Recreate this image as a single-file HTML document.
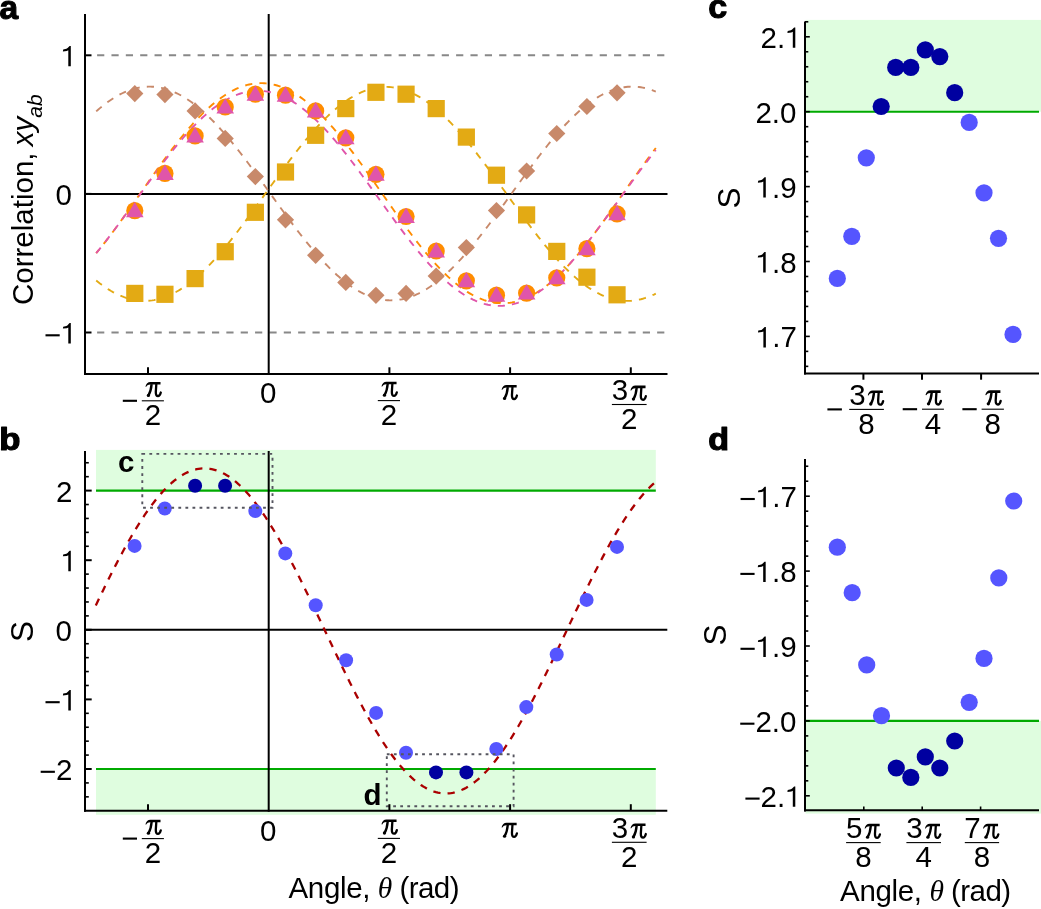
<!DOCTYPE html>
<html><head><meta charset="utf-8"><style>
html,body{margin:0;padding:0;background:#fff;overflow:hidden;}
svg{display:block;will-change:transform;}
</style></head><body>
<svg width="1041" height="909" viewBox="0 0 1041 909">
<rect width="1041" height="909" fill="#fff"/>
<line x1="97.10" y1="55.30" x2="664.50" y2="55.30" stroke="#888888" stroke-width="2.00" stroke-dasharray="7.2,7.16"/>
<line x1="97.10" y1="332.50" x2="664.50" y2="332.50" stroke="#888888" stroke-width="2.00" stroke-dasharray="7.2,7.16"/>
<line x1="85.00" y1="193.90" x2="667.50" y2="193.90" stroke="#000" stroke-width="2.00" />
<line x1="268.70" y1="14.00" x2="268.70" y2="374.80" stroke="#000" stroke-width="2.00" />
<path d="M96.20,111.35 L98.07,109.71 L99.93,108.13 L101.80,106.59 L103.66,105.11 L105.53,103.68 L107.39,102.30 L109.26,100.97 L111.12,99.70 L112.99,98.49 L114.85,97.33 L116.72,96.22 L118.58,95.18 L120.45,94.19 L122.31,93.26 L124.18,92.39 L126.05,91.58 L127.91,90.83 L129.78,90.14 L131.64,89.51 L133.51,88.94 L135.37,88.43 L137.24,87.99 L139.10,87.61 L140.97,87.29 L142.83,87.03 L144.70,86.84 L146.56,86.70 L148.43,86.63 L150.29,86.63 L152.16,86.69 L154.03,86.81 L155.89,86.99 L157.76,87.23 L159.62,87.54 L161.49,87.91 L163.35,88.35 L165.22,88.84 L167.08,89.40 L168.95,90.02 L170.81,90.69 L172.68,91.43 L174.54,92.23 L176.41,93.09 L178.27,94.01 L180.14,94.99 L182.01,96.02 L183.87,97.11 L185.74,98.26 L187.60,99.47 L189.47,100.73 L191.33,102.05 L193.20,103.41 L195.06,104.84 L196.93,106.31 L198.79,107.84 L200.66,109.41 L202.52,111.04 L204.39,112.71 L206.25,114.44 L208.12,116.21 L209.99,118.02 L211.85,119.88 L213.72,121.78 L215.58,123.72 L217.45,125.71 L219.31,127.74 L221.18,129.80 L223.04,131.90 L224.91,134.04 L226.77,136.21 L228.64,138.42 L230.50,140.66 L232.37,142.93 L234.23,145.23 L236.10,147.56 L237.97,149.91 L239.83,152.29 L241.70,154.70 L243.56,157.13 L245.43,159.58 L247.29,162.05 L249.16,164.54 L251.02,167.04 L252.89,169.56 L254.75,172.10 L256.62,174.64 L258.48,177.20 L260.35,179.77 L262.21,182.35 L264.08,184.93 L265.95,187.52 L267.81,190.11 L269.68,192.70 L271.54,195.30 L273.41,197.89 L275.27,200.48 L277.14,203.07 L279.00,205.65 L280.87,208.22 L282.73,210.79 L284.60,213.34 L286.46,215.88 L288.33,218.41 L290.19,220.93 L292.06,223.43 L293.93,225.91 L295.79,228.37 L297.66,230.81 L299.52,233.23 L301.39,235.63 L303.25,238.00 L305.12,240.34 L306.98,242.66 L308.85,244.95 L310.71,247.21 L312.58,249.43 L314.44,251.63 L316.31,253.79 L318.17,255.91 L320.04,258.00 L321.91,260.05 L323.77,262.05 L325.64,264.02 L327.50,265.95 L329.37,267.84 L331.23,269.68 L333.10,271.47 L334.96,273.22 L336.83,274.93 L338.69,276.58 L340.56,278.19 L342.42,279.75 L344.29,281.25 L346.15,282.70 L348.02,284.11 L349.89,285.45 L351.75,286.75 L353.62,287.99 L355.48,289.17 L357.35,290.30 L359.21,291.37 L361.08,292.38 L362.94,293.33 L364.81,294.23 L366.67,295.06 L368.54,295.84 L370.40,296.55 L372.27,297.21 L374.13,297.80 L376.00,298.33 L377.87,298.80 L379.73,299.21 L381.60,299.56 L383.46,299.84 L385.33,300.06 L387.19,300.22 L389.06,300.31 L390.92,300.34 L392.79,300.31 L394.65,300.22 L396.52,300.06 L398.38,299.84 L400.25,299.56 L402.11,299.22 L403.98,298.81 L405.85,298.34 L407.71,297.81 L409.58,297.22 L411.44,296.56 L413.31,295.85 L415.17,295.07 L417.04,294.24 L418.90,293.35 L420.77,292.39 L422.63,291.38 L424.50,290.31 L426.36,289.19 L428.23,288.00 L430.09,286.77 L431.96,285.47 L433.83,284.13 L435.69,282.73 L437.56,281.27 L439.42,279.77 L441.29,278.21 L443.15,276.61 L445.02,274.95 L446.88,273.25 L448.75,271.50 L450.61,269.71 L452.48,267.86 L454.34,265.98 L456.21,264.05 L458.07,262.09 L459.94,260.08 L461.81,258.03 L463.67,255.94 L465.54,253.82 L467.40,251.66 L469.27,249.47 L471.13,247.24 L473.00,244.98 L474.86,242.70 L476.73,240.38 L478.59,238.03 L480.46,235.66 L482.32,233.27 L484.19,230.85 L486.05,228.41 L487.92,225.95 L489.79,223.46 L491.65,220.97 L493.52,218.45 L495.38,215.92 L497.25,213.38 L499.11,210.83 L500.98,208.26 L502.84,205.69 L504.71,203.11 L506.57,200.52 L508.44,197.93 L510.30,195.34 L512.17,192.74 L514.03,190.15 L515.90,187.56 L517.77,184.97 L519.63,182.39 L521.50,179.81 L523.36,177.24 L525.23,174.68 L527.09,172.14 L528.96,169.60 L530.82,167.08 L532.69,164.57 L534.55,162.08 L536.42,159.61 L538.28,157.16 L540.15,154.74 L542.01,152.33 L543.88,149.95 L545.75,147.59 L547.61,145.26 L549.48,142.96 L551.34,140.69 L553.21,138.45 L555.07,136.25 L556.94,134.07 L558.80,131.93 L560.67,129.83 L562.53,127.77 L564.40,125.74 L566.26,123.75 L568.13,121.81 L569.99,119.91 L571.86,118.05 L573.73,116.23 L575.59,114.46 L577.46,112.74 L579.32,111.06 L581.19,109.44 L583.05,107.86 L584.92,106.33 L586.78,104.86 L588.65,103.44 L590.51,102.07 L592.38,100.75 L594.24,99.49 L596.11,98.28 L597.97,97.13 L599.84,96.04 L601.71,95.00 L603.57,94.02 L605.44,93.11 L607.30,92.25 L609.17,91.45 L611.03,90.70 L612.90,90.03 L614.76,89.41 L616.63,88.85 L618.49,88.35 L620.36,87.92 L622.22,87.55 L624.09,87.24 L625.95,86.99 L627.82,86.81 L629.69,86.69 L631.55,86.63 L633.42,86.63 L635.28,86.70 L637.15,86.83 L639.01,87.03 L640.88,87.28 L642.74,87.60 L644.61,87.98 L646.47,88.43 L648.34,88.93 L650.20,89.50 L652.07,90.13 L653.93,90.82 L655.80,91.57" stroke="#C8896A" stroke-dasharray="7.2,7.15" fill="none" stroke-width="1.9"/>
<path d="M96.20,280.48 L98.07,281.98 L99.93,283.43 L101.80,284.82 L103.66,286.16 L105.53,287.45 L107.39,288.69 L109.26,289.86 L111.12,290.98 L112.99,292.05 L114.85,293.05 L116.72,294.00 L118.58,294.89 L120.45,295.72 L122.31,296.48 L124.18,297.19 L126.05,297.84 L127.91,298.43 L129.78,298.95 L131.64,299.41 L133.51,299.81 L135.37,300.15 L137.24,300.43 L139.10,300.64 L140.97,300.79 L142.83,300.88 L144.70,300.90 L146.56,300.86 L148.43,300.76 L150.29,300.59 L152.16,300.36 L154.03,300.07 L155.89,299.72 L157.76,299.30 L159.62,298.82 L161.49,298.28 L163.35,297.68 L165.22,297.02 L167.08,296.30 L168.95,295.51 L170.81,294.67 L172.68,293.77 L174.54,292.81 L176.41,291.79 L178.27,290.71 L180.14,289.57 L182.01,288.38 L183.87,287.14 L185.74,285.83 L187.60,284.48 L189.47,283.07 L191.33,281.61 L193.20,280.09 L195.06,278.53 L196.93,276.91 L198.79,275.25 L200.66,273.54 L202.52,271.78 L204.39,269.98 L206.25,268.13 L208.12,266.24 L209.99,264.30 L211.85,262.33 L213.72,260.31 L215.58,258.25 L217.45,256.16 L219.31,254.03 L221.18,251.86 L223.04,249.66 L224.91,247.43 L226.77,245.16 L228.64,242.87 L230.50,240.55 L232.37,238.19 L234.23,235.82 L236.10,233.42 L237.97,230.99 L239.83,228.54 L241.70,226.08 L243.56,223.59 L245.43,221.08 L247.29,218.56 L249.16,216.03 L251.02,213.48 L252.89,210.92 L254.75,208.35 L256.62,205.78 L258.48,203.19 L260.35,200.60 L262.21,198.01 L264.08,195.41 L265.95,192.81 L267.81,190.22 L269.68,187.62 L271.54,185.03 L273.41,182.45 L275.27,179.87 L277.14,177.30 L279.00,174.74 L280.87,172.19 L282.73,169.65 L284.60,167.13 L286.46,164.62 L288.33,162.13 L290.19,159.66 L292.06,157.21 L293.93,154.78 L295.79,152.37 L297.66,149.99 L299.52,147.64 L301.39,145.31 L303.25,143.01 L305.12,140.74 L306.98,138.50 L308.85,136.30 L310.71,134.12 L312.58,131.99 L314.44,129.89 L316.31,127.83 L318.17,125.80 L320.04,123.82 L321.91,121.88 L323.77,119.98 L325.64,118.12 L327.50,116.31 L329.37,114.54 L331.23,112.83 L333.10,111.15 L334.96,109.53 L336.83,107.96 L338.69,106.44 L340.56,104.97 L342.42,103.55 L344.29,102.18 L346.15,100.87 L348.02,99.62 L349.89,98.42 L351.75,97.27 L353.62,96.19 L355.48,95.16 L357.35,94.19 L359.21,93.27 L361.08,92.42 L362.94,91.63 L364.81,90.89 L366.67,90.22 L368.54,89.61 L370.40,89.06 L372.27,88.57 L374.13,88.15 L376.00,87.78 L377.87,87.48 L379.73,87.24 L381.60,87.07 L383.46,86.95 L385.33,86.90 L387.19,86.92 L389.06,86.99 L390.92,87.13 L392.79,87.33 L394.65,87.60 L396.52,87.93 L398.38,88.32 L400.25,88.77 L402.11,89.28 L403.98,89.86 L405.85,90.50 L407.71,91.20 L409.58,91.95 L411.44,92.77 L413.31,93.65 L415.17,94.59 L417.04,95.59 L418.90,96.64 L420.77,97.75 L422.63,98.92 L424.50,100.14 L426.36,101.42 L428.23,102.75 L430.09,104.14 L431.96,105.58 L433.83,107.07 L435.69,108.62 L437.56,110.21 L439.42,111.85 L441.29,113.55 L443.15,115.28 L445.02,117.07 L446.88,118.90 L448.75,120.77 L450.61,122.69 L452.48,124.65 L454.34,126.65 L456.21,128.69 L458.07,130.77 L459.94,132.89 L461.81,135.04 L463.67,137.22 L465.54,139.44 L467.40,141.70 L469.27,143.98 L471.13,146.29 L473.00,148.63 L474.86,151.00 L476.73,153.39 L478.59,155.80 L480.46,158.24 L482.32,160.70 L484.19,163.18 L486.05,165.68 L487.92,168.19 L489.79,170.72 L491.65,173.26 L493.52,175.82 L495.38,178.38 L497.25,180.96 L499.11,183.54 L500.98,186.13 L502.84,188.72 L504.71,191.31 L506.57,193.91 L508.44,196.51 L510.30,199.10 L512.17,201.70 L514.03,204.28 L515.90,206.87 L517.77,209.44 L519.63,212.01 L521.50,214.56 L523.36,217.10 L525.23,219.63 L527.09,222.14 L528.96,224.64 L530.82,227.12 L532.69,229.58 L534.55,232.02 L536.42,234.43 L538.28,236.82 L540.15,239.19 L542.01,241.53 L543.88,243.84 L545.75,246.12 L547.61,248.38 L549.48,250.60 L551.34,252.78 L553.21,254.93 L555.07,257.05 L556.94,259.13 L558.80,261.17 L560.67,263.17 L562.53,265.12 L564.40,267.04 L566.26,268.92 L568.13,270.75 L569.99,272.53 L571.86,274.27 L573.73,275.96 L575.59,277.60 L577.46,279.20 L579.32,280.74 L581.19,282.23 L583.05,283.67 L584.92,285.06 L586.78,286.39 L588.65,287.67 L590.51,288.89 L592.38,290.06 L594.24,291.17 L596.11,292.22 L597.97,293.22 L599.84,294.16 L601.71,295.03 L603.57,295.85 L605.44,296.61 L607.30,297.31 L609.17,297.94 L611.03,298.52 L612.90,299.03 L614.76,299.49 L616.63,299.88 L618.49,300.20 L620.36,300.47 L622.22,300.67 L624.09,300.81 L625.95,300.88 L627.82,300.90 L629.69,300.85 L631.55,300.73 L633.42,300.56 L635.28,300.32 L637.15,300.02 L639.01,299.65 L640.88,299.22 L642.74,298.74 L644.61,298.19 L646.47,297.57 L648.34,296.90 L650.20,296.17 L652.07,295.37 L653.93,294.52 L655.80,293.61" stroke="#E3AA14" stroke-dasharray="7.2,7.15" fill="none" stroke-width="1.9"/>
<path d="M96.20,253.16 L98.07,250.90 L99.93,248.61 L101.80,246.29 L103.66,243.93 L105.53,241.54 L107.39,239.13 L109.26,236.69 L111.12,234.22 L112.99,231.73 L114.85,229.22 L116.72,226.68 L118.58,224.13 L120.45,221.56 L122.31,218.97 L124.18,216.36 L126.05,213.74 L127.91,211.11 L129.78,208.47 L131.64,205.82 L133.51,203.17 L135.37,200.50 L137.24,197.83 L139.10,195.16 L140.97,192.49 L142.83,189.82 L144.70,187.15 L146.56,184.49 L148.43,181.83 L150.29,179.17 L152.16,176.53 L154.03,173.89 L155.89,171.27 L157.76,168.66 L159.62,166.06 L161.49,163.48 L163.35,160.92 L165.22,158.37 L167.08,155.85 L168.95,153.35 L170.81,150.87 L172.68,148.42 L174.54,145.99 L176.41,143.59 L178.27,141.22 L180.14,138.88 L182.01,136.58 L183.87,134.30 L185.74,132.06 L187.60,129.86 L189.47,127.69 L191.33,125.57 L193.20,123.48 L195.06,121.43 L196.93,119.43 L198.79,117.47 L200.66,115.55 L202.52,113.68 L204.39,111.86 L206.25,110.09 L208.12,108.36 L209.99,106.68 L211.85,105.06 L213.72,103.49 L215.58,101.97 L217.45,100.50 L219.31,99.09 L221.18,97.73 L223.04,96.43 L224.91,95.19 L226.77,94.00 L228.64,92.87 L230.50,91.81 L232.37,90.80 L234.23,89.85 L236.10,88.96 L237.97,88.14 L239.83,87.37 L241.70,86.67 L243.56,86.04 L245.43,85.46 L247.29,84.95 L249.16,84.50 L251.02,84.12 L252.89,83.80 L254.75,83.54 L256.62,83.35 L258.48,83.23 L260.35,83.16 L262.21,83.17 L264.08,83.24 L265.95,83.37 L267.81,83.57 L269.68,83.83 L271.54,84.16 L273.41,84.55 L275.27,85.01 L277.14,85.53 L279.00,86.11 L280.87,86.75 L282.73,87.46 L284.60,88.23 L286.46,89.07 L288.33,89.96 L290.19,90.92 L292.06,91.93 L293.93,93.01 L295.79,94.14 L297.66,95.33 L299.52,96.58 L301.39,97.89 L303.25,99.25 L305.12,100.67 L306.98,102.15 L308.85,103.67 L310.71,105.25 L312.58,106.88 L314.44,108.57 L316.31,110.30 L318.17,112.08 L320.04,113.91 L321.91,115.78 L323.77,117.70 L325.64,119.67 L327.50,121.68 L329.37,123.73 L331.23,125.82 L333.10,127.95 L334.96,130.12 L336.83,132.33 L338.69,134.57 L340.56,136.85 L342.42,139.16 L344.29,141.51 L346.15,143.88 L348.02,146.28 L349.89,148.71 L351.75,151.17 L353.62,153.65 L355.48,156.15 L357.35,158.68 L359.21,161.23 L361.08,163.79 L362.94,166.37 L364.81,168.97 L366.67,171.58 L368.54,174.21 L370.40,176.85 L372.27,179.49 L374.13,182.15 L376.00,184.81 L377.87,187.47 L379.73,190.14 L381.60,192.82 L383.46,195.49 L385.33,198.16 L387.19,200.82 L389.06,203.49 L390.92,206.14 L392.79,208.79 L394.65,211.43 L396.52,214.06 L398.38,216.68 L400.25,219.28 L402.11,221.87 L403.98,224.44 L405.85,226.99 L407.71,229.52 L409.58,232.03 L411.44,234.52 L413.31,236.98 L415.17,239.42 L417.04,241.83 L418.90,244.22 L420.77,246.57 L422.63,248.89 L424.50,251.18 L426.36,253.43 L428.23,255.65 L430.09,257.83 L431.96,259.97 L433.83,262.08 L435.69,264.14 L437.56,266.16 L439.42,268.14 L441.29,270.07 L443.15,271.96 L445.02,273.80 L446.88,275.60 L448.75,277.35 L450.61,279.04 L452.48,280.69 L454.34,282.28 L456.21,283.83 L458.07,285.31 L459.94,286.75 L461.81,288.13 L463.67,289.45 L465.54,290.72 L467.40,291.93 L469.27,293.08 L471.13,294.17 L473.00,295.21 L474.86,296.18 L476.73,297.09 L478.59,297.94 L480.46,298.73 L482.32,299.46 L484.19,300.12 L486.05,300.72 L487.92,301.26 L489.79,301.74 L491.65,302.15 L493.52,302.49 L495.38,302.77 L497.25,302.99 L499.11,303.14 L500.98,303.23 L502.84,303.25 L504.71,303.21 L506.57,303.11 L508.44,302.93 L510.30,302.70 L512.17,302.40 L514.03,302.03 L515.90,301.60 L517.77,301.11 L519.63,300.55 L521.50,299.93 L523.36,299.25 L525.23,298.51 L527.09,297.70 L528.96,296.83 L530.82,295.90 L532.69,294.91 L534.55,293.86 L536.42,292.75 L538.28,291.58 L540.15,290.35 L542.01,289.07 L543.88,287.73 L545.75,286.34 L547.61,284.88 L549.48,283.38 L551.34,281.82 L553.21,280.21 L555.07,278.55 L556.94,276.84 L558.80,275.08 L560.67,273.27 L562.53,271.41 L564.40,269.51 L566.26,267.56 L568.13,265.57 L569.99,263.54 L571.86,261.46 L573.73,259.35 L575.59,257.19 L577.46,255.00 L579.32,252.77 L581.19,250.51 L583.05,248.21 L584.92,245.88 L586.78,243.52 L588.65,241.13 L590.51,238.71 L592.38,236.27 L594.24,233.80 L596.11,231.30 L597.97,228.78 L599.84,226.24 L601.71,223.69 L603.57,221.11 L605.44,218.52 L607.30,215.91 L609.17,213.29 L611.03,210.66 L612.90,208.02 L614.76,205.37 L616.63,202.71 L618.49,200.04 L620.36,197.38 L622.22,194.70 L624.09,192.03 L625.95,189.36 L627.82,186.69 L629.69,184.03 L631.55,181.37 L633.42,178.72 L635.28,176.07 L637.15,173.44 L639.01,170.82 L640.88,168.21 L642.74,165.62 L644.61,163.04 L646.47,160.48 L648.34,157.94 L650.20,155.42 L652.07,152.92 L653.93,150.45 L655.80,148.00" stroke="#FF8C00" pathLength="1000" stroke-dasharray="8.937,8.888" fill="none" stroke-width="1.9" stroke-dashoffset="3.103"/>
<path d="M96.20,253.09 L98.07,250.83 L99.93,248.53 L101.80,246.21 L103.66,243.86 L105.53,241.48 L107.39,239.07 L109.26,236.65 L111.12,234.20 L112.99,231.72 L114.85,229.23 L116.72,226.72 L118.58,224.20 L120.45,221.65 L122.31,219.10 L124.18,216.53 L126.05,213.95 L127.91,211.36 L129.78,208.77 L131.64,206.17 L133.51,203.56 L135.37,200.95 L137.24,198.34 L139.10,195.73 L140.97,193.12 L142.83,190.52 L144.70,187.91 L146.56,185.32 L148.43,182.73 L150.29,180.15 L152.16,177.59 L154.03,175.03 L155.89,172.49 L157.76,169.96 L159.62,167.45 L161.49,164.96 L163.35,162.49 L165.22,160.04 L167.08,157.61 L168.95,155.21 L170.81,152.83 L172.68,150.47 L174.54,148.15 L176.41,145.86 L178.27,143.59 L180.14,141.36 L182.01,139.16 L183.87,137.00 L185.74,134.88 L187.60,132.79 L189.47,130.74 L191.33,128.72 L193.20,126.76 L195.06,124.83 L196.93,122.94 L198.79,121.10 L200.66,119.31 L202.52,117.56 L204.39,115.86 L206.25,114.21 L208.12,112.61 L209.99,111.06 L211.85,109.56 L213.72,108.11 L215.58,106.72 L217.45,105.38 L219.31,104.09 L221.18,102.86 L223.04,101.69 L224.91,100.57 L226.77,99.51 L228.64,98.51 L230.50,97.57 L232.37,96.68 L234.23,95.86 L236.10,95.10 L237.97,94.40 L239.83,93.76 L241.70,93.18 L243.56,92.66 L245.43,92.21 L247.29,91.81 L249.16,91.48 L251.02,91.22 L252.89,91.01 L254.75,90.87 L256.62,90.80 L258.48,90.78 L260.35,90.83 L262.21,90.95 L264.08,91.12 L265.95,91.36 L267.81,91.67 L269.68,92.03 L271.54,92.46 L273.41,92.95 L275.27,93.51 L277.14,94.12 L279.00,94.80 L280.87,95.53 L282.73,96.33 L284.60,97.19 L286.46,98.11 L288.33,99.08 L290.19,100.12 L292.06,101.21 L293.93,102.36 L295.79,103.57 L297.66,104.83 L299.52,106.15 L301.39,107.52 L303.25,108.94 L305.12,110.42 L306.98,111.95 L308.85,113.53 L310.71,115.16 L312.58,116.84 L314.44,118.57 L316.31,120.35 L318.17,122.17 L320.04,124.03 L321.91,125.94 L323.77,127.89 L325.64,129.89 L327.50,131.92 L329.37,133.99 L331.23,136.11 L333.10,138.25 L334.96,140.44 L336.83,142.65 L338.69,144.90 L340.56,147.18 L342.42,149.50 L344.29,151.84 L346.15,154.20 L348.02,156.60 L349.89,159.02 L351.75,161.46 L353.62,163.92 L355.48,166.41 L357.35,168.91 L359.21,171.43 L361.08,173.96 L362.94,176.51 L364.81,179.08 L366.67,181.65 L368.54,184.23 L370.40,186.83 L372.27,189.42 L374.13,192.03 L376.00,194.64 L377.87,197.25 L379.73,199.86 L381.60,202.47 L383.46,205.08 L385.33,207.68 L387.19,210.28 L389.06,212.87 L390.92,215.45 L392.79,218.02 L394.65,220.58 L396.52,223.13 L398.38,225.66 L400.25,228.18 L402.11,230.68 L403.98,233.16 L405.85,235.62 L407.71,238.06 L409.58,240.47 L411.44,242.86 L413.31,245.23 L415.17,247.56 L417.04,249.87 L418.90,252.14 L420.77,254.39 L422.63,256.60 L424.50,258.78 L426.36,260.92 L428.23,263.02 L430.09,265.09 L431.96,267.12 L433.83,269.10 L435.69,271.05 L437.56,272.95 L439.42,274.81 L441.29,276.62 L443.15,278.39 L445.02,280.11 L446.88,281.78 L448.75,283.40 L450.61,284.98 L452.48,286.50 L454.34,287.97 L456.21,289.38 L458.07,290.75 L459.94,292.06 L461.81,293.31 L463.67,294.51 L465.54,295.65 L467.40,296.73 L469.27,297.75 L471.13,298.72 L473.00,299.63 L474.86,300.48 L476.73,301.26 L478.59,301.99 L480.46,302.66 L482.32,303.26 L484.19,303.80 L486.05,304.28 L487.92,304.70 L489.79,305.06 L491.65,305.35 L493.52,305.58 L495.38,305.75 L497.25,305.85 L499.11,305.89 L500.98,305.86 L502.84,305.78 L504.71,305.63 L506.57,305.41 L508.44,305.14 L510.30,304.80 L512.17,304.39 L514.03,303.93 L515.90,303.40 L517.77,302.81 L519.63,302.16 L521.50,301.45 L523.36,300.68 L525.23,299.84 L527.09,298.95 L528.96,298.00 L530.82,296.99 L532.69,295.92 L534.55,294.79 L536.42,293.61 L538.28,292.37 L540.15,291.08 L542.01,289.73 L543.88,288.32 L545.75,286.87 L547.61,285.36 L549.48,283.80 L551.34,282.19 L553.21,280.53 L555.07,278.82 L556.94,277.06 L558.80,275.26 L560.67,273.42 L562.53,271.52 L564.40,269.59 L566.26,267.61 L568.13,265.60 L569.99,263.54 L571.86,261.44 L573.73,259.31 L575.59,257.14 L577.46,254.94 L579.32,252.70 L581.19,250.43 L583.05,248.13 L584.92,245.81 L586.78,243.45 L588.65,241.07 L590.51,238.66 L592.38,236.23 L594.24,233.77 L596.11,231.30 L597.97,228.80 L599.84,226.29 L601.71,223.76 L603.57,221.21 L605.44,218.66 L607.30,216.09 L609.17,213.51 L611.03,210.92 L612.90,208.32 L614.76,205.72 L616.63,203.11 L618.49,200.50 L620.36,197.89 L622.22,195.28 L624.09,192.67 L625.95,190.07 L627.82,187.47 L629.69,184.87 L631.55,182.29 L633.42,179.71 L635.28,177.14 L637.15,174.59 L639.01,172.05 L640.88,169.53 L642.74,167.02 L644.61,164.53 L646.47,162.06 L648.34,159.62 L650.20,157.19 L652.07,154.79 L653.93,152.42 L655.80,150.07" stroke="#E055AA" pathLength="1000" stroke-dasharray="8.937,8.888" fill="none" stroke-width="1.9"/>
<path d="M134.80,85.00 L143.40,93.60 L134.80,102.20 L126.20,93.60 Z" fill="#C8896A"/>
<path d="M164.94,86.00 L173.54,94.60 L164.94,103.20 L156.34,94.60 Z" fill="#C8896A"/>
<path d="M195.08,102.30 L203.68,110.90 L195.08,119.50 L186.48,110.90 Z" fill="#C8896A"/>
<path d="M225.22,129.80 L233.82,138.40 L225.22,147.00 L216.62,138.40 Z" fill="#C8896A"/>
<path d="M255.36,168.00 L263.96,176.60 L255.36,185.20 L246.76,176.60 Z" fill="#C8896A"/>
<path d="M285.50,211.20 L294.10,219.80 L285.50,228.40 L276.90,219.80 Z" fill="#C8896A"/>
<path d="M315.64,246.70 L324.24,255.30 L315.64,263.90 L307.04,255.30 Z" fill="#C8896A"/>
<path d="M345.78,273.80 L354.38,282.40 L345.78,291.00 L337.18,282.40 Z" fill="#C8896A"/>
<path d="M375.92,286.70 L384.52,295.30 L375.92,303.90 L367.32,295.30 Z" fill="#C8896A"/>
<path d="M406.06,284.80 L414.66,293.40 L406.06,302.00 L397.46,293.40 Z" fill="#C8896A"/>
<path d="M436.20,267.50 L444.80,276.10 L436.20,284.70 L427.60,276.10 Z" fill="#C8896A"/>
<path d="M466.34,239.00 L474.94,247.60 L466.34,256.20 L457.74,247.60 Z" fill="#C8896A"/>
<path d="M496.48,202.00 L505.08,210.60 L496.48,219.20 L487.88,210.60 Z" fill="#C8896A"/>
<path d="M526.62,162.40 L535.22,171.00 L526.62,179.60 L518.02,171.00 Z" fill="#C8896A"/>
<path d="M556.76,124.90 L565.36,133.50 L556.76,142.10 L548.16,133.50 Z" fill="#C8896A"/>
<path d="M586.90,97.90 L595.50,106.50 L586.90,115.10 L578.30,106.50 Z" fill="#C8896A"/>
<path d="M617.04,84.20 L625.64,92.80 L617.04,101.40 L608.44,92.80 Z" fill="#C8896A"/>
<rect x="126.20" y="284.80" width="17.20" height="17.20" fill="#E3AA14"/>
<rect x="156.34" y="285.70" width="17.20" height="17.20" fill="#E3AA14"/>
<rect x="186.48" y="270.00" width="17.20" height="17.20" fill="#E3AA14"/>
<rect x="216.62" y="243.10" width="17.20" height="17.20" fill="#E3AA14"/>
<rect x="246.76" y="203.70" width="17.20" height="17.20" fill="#E3AA14"/>
<rect x="276.90" y="163.40" width="17.20" height="17.20" fill="#E3AA14"/>
<rect x="307.04" y="126.70" width="17.20" height="17.20" fill="#E3AA14"/>
<rect x="337.18" y="100.00" width="17.20" height="17.20" fill="#E3AA14"/>
<rect x="367.32" y="83.70" width="17.20" height="17.20" fill="#E3AA14"/>
<rect x="397.46" y="85.60" width="17.20" height="17.20" fill="#E3AA14"/>
<rect x="427.60" y="100.00" width="17.20" height="17.20" fill="#E3AA14"/>
<rect x="457.74" y="128.50" width="17.20" height="17.20" fill="#E3AA14"/>
<rect x="487.88" y="166.60" width="17.20" height="17.20" fill="#E3AA14"/>
<rect x="518.02" y="206.30" width="17.20" height="17.20" fill="#E3AA14"/>
<rect x="548.16" y="242.80" width="17.20" height="17.20" fill="#E3AA14"/>
<rect x="578.30" y="268.60" width="17.20" height="17.20" fill="#E3AA14"/>
<rect x="608.44" y="286.20" width="17.20" height="17.20" fill="#E3AA14"/>
<circle cx="134.80" cy="210.70" r="8.6" fill="#FF8C00"/>
<circle cx="164.94" cy="173.40" r="8.6" fill="#FF8C00"/>
<circle cx="195.08" cy="135.90" r="8.6" fill="#FF8C00"/>
<circle cx="225.22" cy="107.00" r="8.6" fill="#FF8C00"/>
<circle cx="255.36" cy="94.20" r="8.6" fill="#FF8C00"/>
<circle cx="285.50" cy="95.20" r="8.6" fill="#FF8C00"/>
<circle cx="315.64" cy="110.90" r="8.6" fill="#FF8C00"/>
<circle cx="345.78" cy="137.80" r="8.6" fill="#FF8C00"/>
<circle cx="375.92" cy="174.30" r="8.6" fill="#FF8C00"/>
<circle cx="406.06" cy="216.50" r="8.6" fill="#FF8C00"/>
<circle cx="436.20" cy="251.00" r="8.6" fill="#FF8C00"/>
<circle cx="466.34" cy="280.80" r="8.6" fill="#FF8C00"/>
<circle cx="496.48" cy="295.20" r="8.6" fill="#FF8C00"/>
<circle cx="526.62" cy="293.10" r="8.6" fill="#FF8C00"/>
<circle cx="556.76" cy="277.80" r="8.6" fill="#FF8C00"/>
<circle cx="586.90" cy="248.70" r="8.6" fill="#FF8C00"/>
<circle cx="617.04" cy="213.80" r="8.6" fill="#FF8C00"/>
<path d="M134.80,201.90 L143.60,217.20 L126.00,217.20 Z" fill="#E055AA"/>
<path d="M164.94,164.60 L173.74,179.90 L156.14,179.90 Z" fill="#E055AA"/>
<path d="M195.08,127.10 L203.88,142.40 L186.28,142.40 Z" fill="#E055AA"/>
<path d="M225.22,98.20 L234.02,113.50 L216.42,113.50 Z" fill="#E055AA"/>
<path d="M255.36,85.40 L264.16,100.70 L246.56,100.70 Z" fill="#E055AA"/>
<path d="M285.50,86.40 L294.30,101.70 L276.70,101.70 Z" fill="#E055AA"/>
<path d="M315.64,102.10 L324.44,117.40 L306.84,117.40 Z" fill="#E055AA"/>
<path d="M345.78,129.00 L354.58,144.30 L336.98,144.30 Z" fill="#E055AA"/>
<path d="M375.92,165.50 L384.72,180.80 L367.12,180.80 Z" fill="#E055AA"/>
<path d="M406.06,207.70 L414.86,223.00 L397.26,223.00 Z" fill="#E055AA"/>
<path d="M436.20,242.20 L445.00,257.50 L427.40,257.50 Z" fill="#E055AA"/>
<path d="M466.34,272.00 L475.14,287.30 L457.54,287.30 Z" fill="#E055AA"/>
<path d="M496.48,286.40 L505.28,301.70 L487.68,301.70 Z" fill="#E055AA"/>
<path d="M526.62,284.30 L535.42,299.60 L517.82,299.60 Z" fill="#E055AA"/>
<path d="M556.76,269.00 L565.56,284.30 L547.96,284.30 Z" fill="#E055AA"/>
<path d="M586.90,239.90 L595.70,255.20 L578.10,255.20 Z" fill="#E055AA"/>
<path d="M617.04,205.00 L625.84,220.30 L608.24,220.30 Z" fill="#E055AA"/>
<line x1="85.00" y1="14.00" x2="85.00" y2="374.90" stroke="#000" stroke-width="2.00" />
<line x1="84.00" y1="373.90" x2="667.50" y2="373.90" stroke="#000" stroke-width="2.00" />
<line x1="85.00" y1="55.30" x2="91.50" y2="55.30" stroke="#000" stroke-width="2.00" />
<line x1="85.00" y1="193.90" x2="91.50" y2="193.90" stroke="#000" stroke-width="2.00" />
<line x1="85.00" y1="332.50" x2="91.50" y2="332.50" stroke="#000" stroke-width="2.00" />
<line x1="148.00" y1="367.30" x2="148.00" y2="373.90" stroke="#000" stroke-width="2.00" />
<line x1="389.40" y1="367.30" x2="389.40" y2="373.90" stroke="#000" stroke-width="2.00" />
<line x1="510.10" y1="367.30" x2="510.10" y2="373.90" stroke="#000" stroke-width="2.00" />
<line x1="630.80" y1="367.30" x2="630.80" y2="373.90" stroke="#000" stroke-width="2.00" />
<path d="M70.80,45.90 L69.60,45.90 L68.60,46.90 L67.60,48.00 L66.40,48.80 L63.20,49.50 L62.90,51.40 L66.80,51.00 L68.30,50.30 L68.30,66.30 L70.80,66.30 Z" fill="#000"/>
<text x="55.55" y="204.90" font-size="29.50" text-anchor="start" font-family="&quot;Liberation Sans&quot;, sans-serif" >0</text>
<rect x="45.50" y="334.25" width="14.2" height="2.1" fill="#000"/>
<path d="M70.80,323.10 L69.60,323.10 L68.60,324.10 L67.60,325.20 L66.40,326.00 L63.20,326.70 L62.90,328.60 L66.80,328.20 L68.30,327.50 L68.30,343.50 L70.80,343.50 Z" fill="#000"/>
<rect x="141.80" y="400.25" width="22.10" height="1.1" fill="#000"/>
<g transform="translate(145.20,397.00)"><path d="M0.2,-10.3 C0.9,-13.3 2.6,-15.1 5.2,-15.1 L15.3,-15.1 L15.3,-12.5 L4.9,-12.5 C3.2,-12.5 2,-11.8 1.0,-10.2 Z" fill="#000"/><path d="M6.4,-12.8 C6.0,-8 5.0,-4.5 3.4,-1.8" stroke="#000" stroke-width="2.4" fill="none"/><circle cx="3.2" cy="-1.6" r="1.65" fill="#000"/><path d="M11.1,-12.8 L10.6,-5 C10.5,-1.8 11.6,-0.9 12.8,-0.9 C14.2,-0.9 15.0,-2.2 15.6,-4.5" stroke="#000" stroke-width="2.3" fill="none" stroke-linecap="round"/></g>
<text x="144.65" y="425.40" font-size="29.50" text-anchor="start" font-family="&quot;Liberation Sans&quot;, sans-serif" >2</text>
<rect x="122.80" y="399.75" width="14.20" height="2.1" fill="#000"/>
<text x="260.10" y="403.30" font-size="29.50" text-anchor="start" font-family="&quot;Liberation Sans&quot;, sans-serif" >0</text>
<rect x="377.80" y="400.05" width="22.20" height="1.1" fill="#000"/>
<g transform="translate(381.25,396.80)"><path d="M0.2,-10.3 C0.9,-13.3 2.6,-15.1 5.2,-15.1 L15.3,-15.1 L15.3,-12.5 L4.9,-12.5 C3.2,-12.5 2,-11.8 1.0,-10.2 Z" fill="#000"/><path d="M6.4,-12.8 C6.0,-8 5.0,-4.5 3.4,-1.8" stroke="#000" stroke-width="2.4" fill="none"/><circle cx="3.2" cy="-1.6" r="1.65" fill="#000"/><path d="M11.1,-12.8 L10.6,-5 C10.5,-1.8 11.6,-0.9 12.8,-0.9 C14.2,-0.9 15.0,-2.2 15.6,-4.5" stroke="#000" stroke-width="2.3" fill="none" stroke-linecap="round"/></g>
<text x="380.70" y="425.20" font-size="29.50" text-anchor="start" font-family="&quot;Liberation Sans&quot;, sans-serif" >2</text>
<g transform="translate(501.35,400.00)"><path d="M0.2,-10.3 C0.9,-13.3 2.6,-15.1 5.2,-15.1 L15.3,-15.1 L15.3,-12.5 L4.9,-12.5 C3.2,-12.5 2,-11.8 1.0,-10.2 Z" fill="#000"/><path d="M6.4,-12.8 C6.0,-8 5.0,-4.5 3.4,-1.8" stroke="#000" stroke-width="2.4" fill="none"/><circle cx="3.2" cy="-1.6" r="1.65" fill="#000"/><path d="M11.1,-12.8 L10.6,-5 C10.5,-1.8 11.6,-0.9 12.8,-0.9 C14.2,-0.9 15.0,-2.2 15.6,-4.5" stroke="#000" stroke-width="2.3" fill="none" stroke-linecap="round"/></g>
<rect x="611.90" y="403.95" width="34.70" height="1.1" fill="#000"/>
<text x="611.83" y="400.30" font-size="29.50" text-anchor="start" font-family="&quot;Liberation Sans&quot;, sans-serif" >3</text>
<g transform="translate(630.24,400.70)"><path d="M0.2,-10.3 C0.9,-13.3 2.6,-15.1 5.2,-15.1 L15.3,-15.1 L15.3,-12.5 L4.9,-12.5 C3.2,-12.5 2,-11.8 1.0,-10.2 Z" fill="#000"/><path d="M6.4,-12.8 C6.0,-8 5.0,-4.5 3.4,-1.8" stroke="#000" stroke-width="2.4" fill="none"/><circle cx="3.2" cy="-1.6" r="1.65" fill="#000"/><path d="M11.1,-12.8 L10.6,-5 C10.5,-1.8 11.6,-0.9 12.8,-0.9 C14.2,-0.9 15.0,-2.2 15.6,-4.5" stroke="#000" stroke-width="2.3" fill="none" stroke-linecap="round"/></g>
<text x="621.05" y="429.10" font-size="29.50" text-anchor="start" font-family="&quot;Liberation Sans&quot;, sans-serif" >2</text>
<text transform="translate(33,305) rotate(-90)" font-size="29.5" font-family="&quot;Liberation Sans&quot;, sans-serif">Correlation, <tspan font-style="italic" dx="-2">xy</tspan><tspan font-style="italic" font-size="21" dx="-0.8" dy="9">ab</tspan></text>
<text transform="translate(-0.4,19.3) scale(1.0,1)" font-size="33.5" stroke-width="1.1" font-weight="bold" stroke="#000" stroke-linejoin="round" font-family="&quot;Liberation Sans&quot;, sans-serif">a</text>
<rect x="96" y="449.9" width="559.8" height="40.70" fill="#DFFDDF"/>
<rect x="96" y="769.00" width="559.8" height="45.80" fill="#DFFDDF"/>
<line x1="96.00" y1="490.60" x2="655.80" y2="490.60" stroke="#00AA00" stroke-width="2.10" />
<line x1="96.00" y1="769.00" x2="655.80" y2="769.00" stroke="#00AA00" stroke-width="2.10" />
<line x1="85.00" y1="629.80" x2="667.30" y2="629.80" stroke="#000" stroke-width="2.00" />
<line x1="268.70" y1="451.00" x2="268.70" y2="811.80" stroke="#000" stroke-width="2.00" />
<path d="M95.80,605.40 L97.67,601.50 L99.54,597.62 L101.41,593.76 L103.28,589.93 L105.14,586.11 L107.01,582.33 L108.88,578.57 L110.75,574.84 L112.62,571.15 L114.49,567.49 L116.36,563.87 L118.23,560.29 L120.10,556.75 L121.97,553.26 L123.83,549.81 L125.70,546.41 L127.57,543.06 L129.44,539.76 L131.31,536.51 L133.18,533.32 L135.05,530.19 L136.92,527.12 L138.79,524.11 L140.66,521.16 L142.53,518.28 L144.39,515.46 L146.26,512.71 L148.13,510.04 L150.00,507.43 L151.87,504.90 L153.74,502.44 L155.61,500.06 L157.48,497.75 L159.35,495.52 L161.22,493.38 L163.08,491.31 L164.95,489.33 L166.82,487.43 L168.69,485.62 L170.56,483.89 L172.43,482.25 L174.30,480.70 L176.17,479.23 L178.04,477.86 L179.91,476.58 L181.77,475.38 L183.64,474.28 L185.51,473.27 L187.38,472.36 L189.25,471.54 L191.12,470.81 L192.99,470.18 L194.86,469.65 L196.73,469.20 L198.60,468.86 L200.46,468.61 L202.33,468.46 L204.20,468.40 L206.07,468.44 L207.94,468.57 L209.81,468.80 L211.68,469.13 L213.55,469.55 L215.42,470.07 L217.28,470.68 L219.15,471.39 L221.02,472.19 L222.89,473.09 L224.76,474.08 L226.63,475.16 L228.50,476.33 L230.37,477.60 L232.24,478.96 L234.11,480.40 L235.98,481.94 L237.84,483.56 L239.71,485.27 L241.58,487.07 L243.45,488.95 L245.32,490.92 L247.19,492.97 L249.06,495.10 L250.93,497.31 L252.80,499.60 L254.67,501.97 L256.53,504.41 L258.40,506.93 L260.27,509.52 L262.14,512.18 L264.01,514.92 L265.88,517.72 L267.75,520.59 L269.62,523.53 L271.49,526.52 L273.36,529.58 L275.22,532.70 L277.09,535.88 L278.96,539.12 L280.83,542.41 L282.70,545.75 L284.57,549.14 L286.44,552.58 L288.31,556.06 L290.18,559.60 L292.05,563.17 L293.91,566.78 L295.78,570.43 L297.65,574.12 L299.52,577.84 L301.39,581.59 L303.26,585.37 L305.13,589.18 L307.00,593.01 L308.87,596.86 L310.74,600.74 L312.60,604.63 L314.47,608.54 L316.34,612.46 L318.21,616.39 L320.08,620.34 L321.95,624.28 L323.82,628.23 L325.69,632.19 L327.56,636.14 L329.43,640.09 L331.29,644.03 L333.16,647.97 L335.03,651.89 L336.90,655.81 L338.77,659.70 L340.64,663.59 L342.51,667.45 L344.38,671.29 L346.25,675.11 L348.12,678.90 L349.98,682.66 L351.85,686.39 L353.72,690.09 L355.59,693.75 L357.46,697.38 L359.33,700.97 L361.20,704.51 L363.07,708.01 L364.94,711.47 L366.81,714.88 L368.67,718.24 L370.54,721.55 L372.41,724.80 L374.28,728.00 L376.15,731.14 L378.02,734.22 L379.89,737.24 L381.76,740.20 L383.63,743.09 L385.50,745.92 L387.36,748.68 L389.23,751.37 L391.10,753.98 L392.97,756.53 L394.84,759.00 L396.71,761.40 L398.58,763.71 L400.45,765.95 L402.32,768.11 L404.19,770.19 L406.05,772.18 L407.92,774.10 L409.79,775.92 L411.66,777.67 L413.53,779.32 L415.40,780.89 L417.27,782.37 L419.14,783.75 L421.01,785.05 L422.88,786.26 L424.74,787.37 L426.61,788.40 L428.48,789.33 L430.35,790.16 L432.22,790.90 L434.09,791.55 L435.96,792.10 L437.83,792.56 L439.70,792.92 L441.57,793.18 L443.43,793.35 L445.30,793.43 L447.17,793.40 L449.04,793.28 L450.91,793.07 L452.78,792.76 L454.65,792.35 L456.52,791.85 L458.39,791.25 L460.26,790.56 L462.12,789.77 L463.99,788.89 L465.86,787.91 L467.73,786.85 L469.60,785.69 L471.47,784.44 L473.34,783.09 L475.21,781.66 L477.08,780.14 L478.95,778.53 L480.81,776.83 L482.68,775.05 L484.55,773.18 L486.42,771.23 L488.29,769.19 L490.16,767.08 L492.03,764.88 L493.90,762.60 L495.77,760.25 L497.64,757.81 L499.50,755.31 L501.37,752.73 L503.24,750.07 L505.11,747.35 L506.98,744.56 L508.85,741.70 L510.72,738.78 L512.59,735.79 L514.46,732.74 L516.33,729.63 L518.19,726.46 L520.06,723.23 L521.93,719.95 L523.80,716.62 L525.67,713.23 L527.54,709.80 L529.41,706.32 L531.28,702.80 L533.15,699.23 L535.01,695.63 L536.88,691.98 L538.75,688.30 L540.62,684.59 L542.49,680.84 L544.36,677.06 L546.23,673.26 L548.10,669.43 L549.97,665.58 L551.84,661.71 L553.70,657.82 L555.57,653.91 L557.44,649.99 L559.31,646.06 L561.18,642.12 L563.05,638.18 L564.92,634.23 L566.79,630.27 L568.66,626.32 L570.53,622.37 L572.39,618.43 L574.26,614.49 L576.13,610.56 L578.00,606.65 L579.87,602.75 L581.74,598.86 L583.61,595.00 L585.48,591.15 L587.35,587.33 L589.22,583.54 L591.09,579.77 L592.95,576.03 L594.82,572.33 L596.69,568.66 L598.56,565.03 L600.43,561.43 L602.30,557.88 L604.17,554.37 L606.04,550.91 L607.91,547.49 L609.77,544.12 L611.64,540.81 L613.51,537.54 L615.38,534.34 L617.25,531.19 L619.12,528.09 L620.99,525.06 L622.86,522.10 L624.73,519.19 L626.60,516.36 L628.46,513.59 L630.33,510.89 L632.20,508.26 L634.07,505.70 L635.94,503.22 L637.81,500.81 L639.68,498.48 L641.55,496.23 L643.42,494.06 L645.29,491.96 L647.15,489.96 L649.02,488.03 L650.89,486.19 L652.76,484.43 L654.63,482.77 L656.50,481.18" stroke="#AA0000" stroke-dasharray="7.3,7.05" fill="none" stroke-width="2.3"/>
<circle cx="134.60" cy="545.90" r="7.0" fill="#5555FF"/>
<circle cx="164.80" cy="508.50" r="7.0" fill="#5555FF"/>
<circle cx="195.10" cy="485.70" r="7.0" fill="#0000A0"/>
<circle cx="225.10" cy="485.70" r="7.0" fill="#0000A0"/>
<circle cx="255.30" cy="511.10" r="7.0" fill="#5555FF"/>
<circle cx="285.30" cy="553.40" r="7.0" fill="#5555FF"/>
<circle cx="315.70" cy="605.30" r="7.0" fill="#5555FF"/>
<circle cx="346.10" cy="660.20" r="7.0" fill="#5555FF"/>
<circle cx="376.10" cy="712.90" r="7.0" fill="#5555FF"/>
<circle cx="406.00" cy="752.80" r="7.0" fill="#5555FF"/>
<circle cx="436.00" cy="772.40" r="7.0" fill="#0000A0"/>
<circle cx="466.40" cy="772.40" r="7.0" fill="#0000A0"/>
<circle cx="496.30" cy="749.00" r="7.0" fill="#5555FF"/>
<circle cx="526.30" cy="707.10" r="7.0" fill="#5555FF"/>
<circle cx="556.70" cy="654.50" r="7.0" fill="#5555FF"/>
<circle cx="586.60" cy="599.90" r="7.0" fill="#5555FF"/>
<circle cx="617.00" cy="546.90" r="7.0" fill="#5555FF"/>
<rect x="142.3" y="453.9" width="130.2" height="53.8" stroke="#55555F" stroke-width="1.9" stroke-dasharray="2.8,4.26" fill="none"/>
<rect x="386.8" y="754.2" width="126.8" height="52.1" stroke="#55555F" stroke-width="1.9" stroke-dasharray="2.8,4.26" fill="none"/>
<line x1="85.00" y1="451.00" x2="85.00" y2="811.80" stroke="#000" stroke-width="2.00" />
<line x1="84.00" y1="810.80" x2="667.30" y2="810.80" stroke="#000" stroke-width="2.00" />
<line x1="85.00" y1="796.84" x2="88.80" y2="796.84" stroke="#000" stroke-width="1.60" />
<line x1="85.00" y1="782.92" x2="88.80" y2="782.92" stroke="#000" stroke-width="1.60" />
<line x1="85.00" y1="769.00" x2="91.70" y2="769.00" stroke="#000" stroke-width="2.00" />
<line x1="85.00" y1="755.08" x2="88.80" y2="755.08" stroke="#000" stroke-width="1.60" />
<line x1="85.00" y1="741.16" x2="88.80" y2="741.16" stroke="#000" stroke-width="1.60" />
<line x1="85.00" y1="727.24" x2="88.80" y2="727.24" stroke="#000" stroke-width="1.60" />
<line x1="85.00" y1="713.32" x2="88.80" y2="713.32" stroke="#000" stroke-width="1.60" />
<line x1="85.00" y1="699.40" x2="91.70" y2="699.40" stroke="#000" stroke-width="2.00" />
<line x1="85.00" y1="685.48" x2="88.80" y2="685.48" stroke="#000" stroke-width="1.60" />
<line x1="85.00" y1="671.56" x2="88.80" y2="671.56" stroke="#000" stroke-width="1.60" />
<line x1="85.00" y1="657.64" x2="88.80" y2="657.64" stroke="#000" stroke-width="1.60" />
<line x1="85.00" y1="643.72" x2="88.80" y2="643.72" stroke="#000" stroke-width="1.60" />
<line x1="85.00" y1="629.80" x2="91.70" y2="629.80" stroke="#000" stroke-width="2.00" />
<line x1="85.00" y1="615.88" x2="88.80" y2="615.88" stroke="#000" stroke-width="1.60" />
<line x1="85.00" y1="601.96" x2="88.80" y2="601.96" stroke="#000" stroke-width="1.60" />
<line x1="85.00" y1="588.04" x2="88.80" y2="588.04" stroke="#000" stroke-width="1.60" />
<line x1="85.00" y1="574.12" x2="88.80" y2="574.12" stroke="#000" stroke-width="1.60" />
<line x1="85.00" y1="560.20" x2="91.70" y2="560.20" stroke="#000" stroke-width="2.00" />
<line x1="85.00" y1="546.28" x2="88.80" y2="546.28" stroke="#000" stroke-width="1.60" />
<line x1="85.00" y1="532.36" x2="88.80" y2="532.36" stroke="#000" stroke-width="1.60" />
<line x1="85.00" y1="518.44" x2="88.80" y2="518.44" stroke="#000" stroke-width="1.60" />
<line x1="85.00" y1="504.52" x2="88.80" y2="504.52" stroke="#000" stroke-width="1.60" />
<line x1="85.00" y1="490.60" x2="91.70" y2="490.60" stroke="#000" stroke-width="2.00" />
<line x1="85.00" y1="476.68" x2="88.80" y2="476.68" stroke="#000" stroke-width="1.60" />
<line x1="85.00" y1="462.76" x2="88.80" y2="462.76" stroke="#000" stroke-width="1.60" />
<line x1="148.00" y1="804.20" x2="148.00" y2="810.80" stroke="#000" stroke-width="2.00" />
<line x1="389.40" y1="804.20" x2="389.40" y2="810.80" stroke="#000" stroke-width="2.00" />
<line x1="510.10" y1="804.20" x2="510.10" y2="810.80" stroke="#000" stroke-width="2.00" />
<line x1="630.80" y1="804.20" x2="630.80" y2="810.80" stroke="#000" stroke-width="2.00" />
<text x="55.88" y="501.60" font-size="29.50" text-anchor="start" font-family="&quot;Liberation Sans&quot;, sans-serif" >2</text>
<path d="M70.80,550.80 L69.60,550.80 L68.60,551.80 L67.60,552.90 L66.40,553.70 L63.20,554.40 L62.90,556.30 L66.80,555.90 L68.30,555.20 L68.30,571.20 L70.80,571.20 Z" fill="#000"/>
<text x="55.55" y="640.80" font-size="29.50" text-anchor="start" font-family="&quot;Liberation Sans&quot;, sans-serif" >0</text>
<rect x="45.50" y="701.15" width="14.2" height="2.1" fill="#000"/>
<path d="M70.80,690.00 L69.60,690.00 L68.60,691.00 L67.60,692.10 L66.40,692.90 L63.20,693.60 L62.90,695.50 L66.80,695.10 L68.30,694.40 L68.30,710.40 L70.80,710.40 Z" fill="#000"/>
<rect x="40.68" y="770.75" width="14.2" height="2.1" fill="#000"/>
<text x="55.88" y="780.00" font-size="29.50" text-anchor="start" font-family="&quot;Liberation Sans&quot;, sans-serif" >2</text>
<rect x="141.80" y="838.05" width="22.10" height="1.1" fill="#000"/>
<g transform="translate(145.20,834.80)"><path d="M0.2,-10.3 C0.9,-13.3 2.6,-15.1 5.2,-15.1 L15.3,-15.1 L15.3,-12.5 L4.9,-12.5 C3.2,-12.5 2,-11.8 1.0,-10.2 Z" fill="#000"/><path d="M6.4,-12.8 C6.0,-8 5.0,-4.5 3.4,-1.8" stroke="#000" stroke-width="2.4" fill="none"/><circle cx="3.2" cy="-1.6" r="1.65" fill="#000"/><path d="M11.1,-12.8 L10.6,-5 C10.5,-1.8 11.6,-0.9 12.8,-0.9 C14.2,-0.9 15.0,-2.2 15.6,-4.5" stroke="#000" stroke-width="2.3" fill="none" stroke-linecap="round"/></g>
<text x="144.65" y="863.20" font-size="29.50" text-anchor="start" font-family="&quot;Liberation Sans&quot;, sans-serif" >2</text>
<rect x="122.80" y="837.55" width="14.20" height="2.1" fill="#000"/>
<text x="260.10" y="841.10" font-size="29.50" text-anchor="start" font-family="&quot;Liberation Sans&quot;, sans-serif" >0</text>
<rect x="377.80" y="837.85" width="22.20" height="1.1" fill="#000"/>
<g transform="translate(381.25,834.60)"><path d="M0.2,-10.3 C0.9,-13.3 2.6,-15.1 5.2,-15.1 L15.3,-15.1 L15.3,-12.5 L4.9,-12.5 C3.2,-12.5 2,-11.8 1.0,-10.2 Z" fill="#000"/><path d="M6.4,-12.8 C6.0,-8 5.0,-4.5 3.4,-1.8" stroke="#000" stroke-width="2.4" fill="none"/><circle cx="3.2" cy="-1.6" r="1.65" fill="#000"/><path d="M11.1,-12.8 L10.6,-5 C10.5,-1.8 11.6,-0.9 12.8,-0.9 C14.2,-0.9 15.0,-2.2 15.6,-4.5" stroke="#000" stroke-width="2.3" fill="none" stroke-linecap="round"/></g>
<text x="380.70" y="863.00" font-size="29.50" text-anchor="start" font-family="&quot;Liberation Sans&quot;, sans-serif" >2</text>
<g transform="translate(501.35,837.80)"><path d="M0.2,-10.3 C0.9,-13.3 2.6,-15.1 5.2,-15.1 L15.3,-15.1 L15.3,-12.5 L4.9,-12.5 C3.2,-12.5 2,-11.8 1.0,-10.2 Z" fill="#000"/><path d="M6.4,-12.8 C6.0,-8 5.0,-4.5 3.4,-1.8" stroke="#000" stroke-width="2.4" fill="none"/><circle cx="3.2" cy="-1.6" r="1.65" fill="#000"/><path d="M11.1,-12.8 L10.6,-5 C10.5,-1.8 11.6,-0.9 12.8,-0.9 C14.2,-0.9 15.0,-2.2 15.6,-4.5" stroke="#000" stroke-width="2.3" fill="none" stroke-linecap="round"/></g>
<rect x="611.90" y="841.75" width="34.70" height="1.1" fill="#000"/>
<text x="611.83" y="838.10" font-size="29.50" text-anchor="start" font-family="&quot;Liberation Sans&quot;, sans-serif" >3</text>
<g transform="translate(630.24,838.50)"><path d="M0.2,-10.3 C0.9,-13.3 2.6,-15.1 5.2,-15.1 L15.3,-15.1 L15.3,-12.5 L4.9,-12.5 C3.2,-12.5 2,-11.8 1.0,-10.2 Z" fill="#000"/><path d="M6.4,-12.8 C6.0,-8 5.0,-4.5 3.4,-1.8" stroke="#000" stroke-width="2.4" fill="none"/><circle cx="3.2" cy="-1.6" r="1.65" fill="#000"/><path d="M11.1,-12.8 L10.6,-5 C10.5,-1.8 11.6,-0.9 12.8,-0.9 C14.2,-0.9 15.0,-2.2 15.6,-4.5" stroke="#000" stroke-width="2.3" fill="none" stroke-linecap="round"/></g>
<text x="621.05" y="866.90" font-size="29.50" text-anchor="start" font-family="&quot;Liberation Sans&quot;, sans-serif" >2</text>
<text x="288.50" y="897.80" font-size="29.50" text-anchor="start" font-family="&quot;Liberation Sans&quot;, sans-serif" letter-spacing="-0.35">Angle,</text>
<text x="377.80" y="897.80" font-size="29.5" font-family="&quot;Liberation Serif&quot;, serif" font-style="italic">&#952;</text>
<text x="399.40" y="897.80" font-size="29.50" text-anchor="start" font-family="&quot;Liberation Sans&quot;, sans-serif" letter-spacing="-0.55">(rad)</text>
<text transform="translate(33,631.5) rotate(-90)" font-size="31.5" text-anchor="middle" font-family="&quot;Liberation Sans&quot;, sans-serif">S</text>
<text transform="translate(-0.7,449.6) scale(1.1,1)" font-size="31.5" stroke-width="1.2" font-weight="bold" stroke="#000" stroke-linejoin="round" font-family="&quot;Liberation Sans&quot;, sans-serif">b</text>
<text x="117.9" y="472" font-size="29.5" font-weight="bold" font-family="&quot;Liberation Sans&quot;, sans-serif">c</text>
<text x="363.6" y="805" font-size="29.5" font-weight="bold" font-family="&quot;Liberation Sans&quot;, sans-serif">d</text>
<rect x="805.6" y="19.9" width="235.4" height="91.80" fill="#DFFDDF"/>
<line x1="805.60" y1="111.70" x2="1039.00" y2="111.70" stroke="#00AA00" stroke-width="2.10" />
<circle cx="837.30" cy="278.40" r="8.6" fill="#5555FF"/>
<circle cx="851.80" cy="236.30" r="8.6" fill="#5555FF"/>
<circle cx="866.30" cy="157.80" r="8.6" fill="#5555FF"/>
<circle cx="881.20" cy="106.50" r="8.6" fill="#0000A0"/>
<circle cx="895.70" cy="67.40" r="8.6" fill="#0000A0"/>
<circle cx="910.80" cy="67.40" r="8.6" fill="#0000A0"/>
<circle cx="925.30" cy="49.90" r="8.6" fill="#0000A0"/>
<circle cx="939.80" cy="56.60" r="8.6" fill="#0000A0"/>
<circle cx="954.70" cy="92.70" r="8.6" fill="#0000A0"/>
<circle cx="969.20" cy="122.40" r="8.6" fill="#5555FF"/>
<circle cx="984.00" cy="192.80" r="8.6" fill="#5555FF"/>
<circle cx="998.50" cy="238.30" r="8.6" fill="#5555FF"/>
<circle cx="1013.00" cy="334.40" r="8.6" fill="#5555FF"/>
<line x1="805.00" y1="21.60" x2="805.00" y2="374.50" stroke="#000" stroke-width="2.00" />
<line x1="804.00" y1="373.50" x2="1039.00" y2="373.50" stroke="#000" stroke-width="2.00" />
<line x1="805.00" y1="366.36" x2="808.30" y2="366.36" stroke="#000" stroke-width="1.60" />
<line x1="805.00" y1="351.38" x2="808.30" y2="351.38" stroke="#000" stroke-width="1.60" />
<line x1="805.00" y1="336.40" x2="809.80" y2="336.40" stroke="#000" stroke-width="1.60" />
<line x1="805.00" y1="321.42" x2="808.30" y2="321.42" stroke="#000" stroke-width="1.60" />
<line x1="805.00" y1="306.44" x2="808.30" y2="306.44" stroke="#000" stroke-width="1.60" />
<line x1="805.00" y1="291.46" x2="808.30" y2="291.46" stroke="#000" stroke-width="1.60" />
<line x1="805.00" y1="276.48" x2="808.30" y2="276.48" stroke="#000" stroke-width="1.60" />
<line x1="805.00" y1="261.50" x2="809.80" y2="261.50" stroke="#000" stroke-width="1.60" />
<line x1="805.00" y1="246.52" x2="808.30" y2="246.52" stroke="#000" stroke-width="1.60" />
<line x1="805.00" y1="231.54" x2="808.30" y2="231.54" stroke="#000" stroke-width="1.60" />
<line x1="805.00" y1="216.56" x2="808.30" y2="216.56" stroke="#000" stroke-width="1.60" />
<line x1="805.00" y1="201.58" x2="808.30" y2="201.58" stroke="#000" stroke-width="1.60" />
<line x1="805.00" y1="186.60" x2="809.80" y2="186.60" stroke="#000" stroke-width="1.60" />
<line x1="805.00" y1="171.62" x2="808.30" y2="171.62" stroke="#000" stroke-width="1.60" />
<line x1="805.00" y1="156.64" x2="808.30" y2="156.64" stroke="#000" stroke-width="1.60" />
<line x1="805.00" y1="141.66" x2="808.30" y2="141.66" stroke="#000" stroke-width="1.60" />
<line x1="805.00" y1="126.68" x2="808.30" y2="126.68" stroke="#000" stroke-width="1.60" />
<line x1="805.00" y1="111.70" x2="809.80" y2="111.70" stroke="#000" stroke-width="1.60" />
<line x1="805.00" y1="96.72" x2="808.30" y2="96.72" stroke="#000" stroke-width="1.60" />
<line x1="805.00" y1="81.74" x2="808.30" y2="81.74" stroke="#000" stroke-width="1.60" />
<line x1="805.00" y1="66.76" x2="808.30" y2="66.76" stroke="#000" stroke-width="1.60" />
<line x1="805.00" y1="51.78" x2="808.30" y2="51.78" stroke="#000" stroke-width="1.60" />
<line x1="805.00" y1="36.80" x2="809.80" y2="36.80" stroke="#000" stroke-width="1.60" />
<line x1="805.00" y1="21.82" x2="808.30" y2="21.82" stroke="#000" stroke-width="1.60" />
<line x1="863.40" y1="373.50" x2="863.40" y2="379.70" stroke="#000" stroke-width="2.00" />
<line x1="922.00" y1="373.50" x2="922.00" y2="379.70" stroke="#000" stroke-width="2.00" />
<line x1="981.10" y1="373.50" x2="981.10" y2="379.70" stroke="#000" stroke-width="2.00" />
<text x="760.60" y="47.80" font-size="29.50" text-anchor="start" font-family="&quot;Liberation Sans&quot;, sans-serif" >2</text>
<text x="777.00" y="47.80" font-size="29.50" text-anchor="start" font-family="&quot;Liberation Sans&quot;, sans-serif" >.</text>
<path d="M795.30,27.40 L794.10,27.40 L793.10,28.40 L792.10,29.50 L790.90,30.30 L787.70,31.00 L787.40,32.90 L791.30,32.50 L792.80,31.80 L792.80,47.80 L795.30,47.80 Z" fill="#000"/>
<text x="755.44" y="122.70" font-size="29.50" text-anchor="start" font-family="&quot;Liberation Sans&quot;, sans-serif" >2</text>
<text x="771.85" y="122.70" font-size="29.50" text-anchor="start" font-family="&quot;Liberation Sans&quot;, sans-serif" >.</text>
<text x="780.05" y="122.70" font-size="29.50" text-anchor="start" font-family="&quot;Liberation Sans&quot;, sans-serif" >0</text>
<path d="M765.79,177.20 L764.59,177.20 L763.59,178.20 L762.59,179.30 L761.39,180.10 L758.19,180.80 L757.89,182.70 L761.79,182.30 L763.29,181.60 L763.29,197.60 L765.79,197.60 Z" fill="#000"/>
<text x="772.09" y="197.60" font-size="29.50" text-anchor="start" font-family="&quot;Liberation Sans&quot;, sans-serif" >.</text>
<text x="780.29" y="197.60" font-size="29.50" text-anchor="start" font-family="&quot;Liberation Sans&quot;, sans-serif" >9</text>
<path d="M765.68,252.10 L764.48,252.10 L763.48,253.10 L762.48,254.20 L761.28,255.00 L758.08,255.70 L757.78,257.60 L761.68,257.20 L763.18,256.50 L763.18,272.50 L765.68,272.50 Z" fill="#000"/>
<text x="771.98" y="272.50" font-size="29.50" text-anchor="start" font-family="&quot;Liberation Sans&quot;, sans-serif" >.</text>
<text x="780.18" y="272.50" font-size="29.50" text-anchor="start" font-family="&quot;Liberation Sans&quot;, sans-serif" >8</text>
<path d="M765.88,327.00 L764.68,327.00 L763.68,328.00 L762.68,329.10 L761.48,329.90 L758.28,330.60 L757.98,332.50 L761.88,332.10 L763.38,331.40 L763.38,347.40 L765.88,347.40 Z" fill="#000"/>
<text x="772.18" y="347.40" font-size="29.50" text-anchor="start" font-family="&quot;Liberation Sans&quot;, sans-serif" >.</text>
<text x="780.38" y="347.40" font-size="29.50" text-anchor="start" font-family="&quot;Liberation Sans&quot;, sans-serif" >7</text>
<rect x="849.20" y="408.85" width="34.70" height="1.1" fill="#000"/>
<text x="849.13" y="405.20" font-size="29.50" text-anchor="start" font-family="&quot;Liberation Sans&quot;, sans-serif" >3</text>
<g transform="translate(867.54,405.60)"><path d="M0.2,-10.3 C0.9,-13.3 2.6,-15.1 5.2,-15.1 L15.3,-15.1 L15.3,-12.5 L4.9,-12.5 C3.2,-12.5 2,-11.8 1.0,-10.2 Z" fill="#000"/><path d="M6.4,-12.8 C6.0,-8 5.0,-4.5 3.4,-1.8" stroke="#000" stroke-width="2.4" fill="none"/><circle cx="3.2" cy="-1.6" r="1.65" fill="#000"/><path d="M11.1,-12.8 L10.6,-5 C10.5,-1.8 11.6,-0.9 12.8,-0.9 C14.2,-0.9 15.0,-2.2 15.6,-4.5" stroke="#000" stroke-width="2.3" fill="none" stroke-linecap="round"/></g>
<text x="858.35" y="434.00" font-size="29.50" text-anchor="start" font-family="&quot;Liberation Sans&quot;, sans-serif" >8</text>
<rect x="827.40" y="408.35" width="14.50" height="2.1" fill="#000"/>
<rect x="922.00" y="408.65" width="21.90" height="1.1" fill="#000"/>
<g transform="translate(925.30,405.40)"><path d="M0.2,-10.3 C0.9,-13.3 2.6,-15.1 5.2,-15.1 L15.3,-15.1 L15.3,-12.5 L4.9,-12.5 C3.2,-12.5 2,-11.8 1.0,-10.2 Z" fill="#000"/><path d="M6.4,-12.8 C6.0,-8 5.0,-4.5 3.4,-1.8" stroke="#000" stroke-width="2.4" fill="none"/><circle cx="3.2" cy="-1.6" r="1.65" fill="#000"/><path d="M11.1,-12.8 L10.6,-5 C10.5,-1.8 11.6,-0.9 12.8,-0.9 C14.2,-0.9 15.0,-2.2 15.6,-4.5" stroke="#000" stroke-width="2.3" fill="none" stroke-linecap="round"/></g>
<text x="924.84" y="433.80" font-size="29.50" text-anchor="start" font-family="&quot;Liberation Sans&quot;, sans-serif" >4</text>
<rect x="902.70" y="408.15" width="14.40" height="2.1" fill="#000"/>
<rect x="981.60" y="408.65" width="22.30" height="1.1" fill="#000"/>
<g transform="translate(985.10,405.40)"><path d="M0.2,-10.3 C0.9,-13.3 2.6,-15.1 5.2,-15.1 L15.3,-15.1 L15.3,-12.5 L4.9,-12.5 C3.2,-12.5 2,-11.8 1.0,-10.2 Z" fill="#000"/><path d="M6.4,-12.8 C6.0,-8 5.0,-4.5 3.4,-1.8" stroke="#000" stroke-width="2.4" fill="none"/><circle cx="3.2" cy="-1.6" r="1.65" fill="#000"/><path d="M11.1,-12.8 L10.6,-5 C10.5,-1.8 11.6,-0.9 12.8,-0.9 C14.2,-0.9 15.0,-2.2 15.6,-4.5" stroke="#000" stroke-width="2.3" fill="none" stroke-linecap="round"/></g>
<text x="984.55" y="433.80" font-size="29.50" text-anchor="start" font-family="&quot;Liberation Sans&quot;, sans-serif" >8</text>
<rect x="962.40" y="408.15" width="14.30" height="2.1" fill="#000"/>
<text transform="translate(740,198) rotate(-90)" font-size="31.5" text-anchor="middle" font-family="&quot;Liberation Sans&quot;, sans-serif">S</text>
<text transform="translate(708.3,18) scale(1.02,1)" font-size="33.5" stroke-width="1.1" font-weight="bold" stroke="#000" stroke-linejoin="round" font-family="&quot;Liberation Sans&quot;, sans-serif">c</text>
<rect x="805.6" y="720.90" width="235.4" height="92.70" fill="#DFFDDF"/>
<line x1="805.60" y1="720.90" x2="1039.00" y2="720.90" stroke="#00AA00" stroke-width="2.10" />
<circle cx="837.30" cy="547.20" r="8.6" fill="#5555FF"/>
<circle cx="852.20" cy="592.70" r="8.6" fill="#5555FF"/>
<circle cx="866.70" cy="664.90" r="8.6" fill="#5555FF"/>
<circle cx="881.50" cy="715.70" r="8.6" fill="#5555FF"/>
<circle cx="896.30" cy="768.00" r="8.6" fill="#0000A0"/>
<circle cx="910.80" cy="777.40" r="8.6" fill="#0000A0"/>
<circle cx="925.30" cy="756.90" r="8.6" fill="#0000A0"/>
<circle cx="939.80" cy="768.00" r="8.6" fill="#0000A0"/>
<circle cx="954.70" cy="741.00" r="8.6" fill="#0000A0"/>
<circle cx="969.20" cy="702.30" r="8.6" fill="#5555FF"/>
<circle cx="984.00" cy="658.40" r="8.6" fill="#5555FF"/>
<circle cx="998.80" cy="577.90" r="8.6" fill="#5555FF"/>
<circle cx="1013.70" cy="501.00" r="8.6" fill="#5555FF"/>
<line x1="805.00" y1="459.00" x2="805.00" y2="811.50" stroke="#000" stroke-width="2.00" />
<line x1="804.00" y1="810.30" x2="1039.00" y2="810.30" stroke="#000" stroke-width="2.00" />
<line x1="805.00" y1="795.80" x2="809.80" y2="795.80" stroke="#000" stroke-width="1.60" />
<line x1="805.00" y1="780.82" x2="808.30" y2="780.82" stroke="#000" stroke-width="1.60" />
<line x1="805.00" y1="765.84" x2="808.30" y2="765.84" stroke="#000" stroke-width="1.60" />
<line x1="805.00" y1="750.86" x2="808.30" y2="750.86" stroke="#000" stroke-width="1.60" />
<line x1="805.00" y1="735.88" x2="808.30" y2="735.88" stroke="#000" stroke-width="1.60" />
<line x1="805.00" y1="720.90" x2="809.80" y2="720.90" stroke="#000" stroke-width="1.60" />
<line x1="805.00" y1="705.92" x2="808.30" y2="705.92" stroke="#000" stroke-width="1.60" />
<line x1="805.00" y1="690.94" x2="808.30" y2="690.94" stroke="#000" stroke-width="1.60" />
<line x1="805.00" y1="675.96" x2="808.30" y2="675.96" stroke="#000" stroke-width="1.60" />
<line x1="805.00" y1="660.98" x2="808.30" y2="660.98" stroke="#000" stroke-width="1.60" />
<line x1="805.00" y1="646.00" x2="809.80" y2="646.00" stroke="#000" stroke-width="1.60" />
<line x1="805.00" y1="631.02" x2="808.30" y2="631.02" stroke="#000" stroke-width="1.60" />
<line x1="805.00" y1="616.04" x2="808.30" y2="616.04" stroke="#000" stroke-width="1.60" />
<line x1="805.00" y1="601.06" x2="808.30" y2="601.06" stroke="#000" stroke-width="1.60" />
<line x1="805.00" y1="586.08" x2="808.30" y2="586.08" stroke="#000" stroke-width="1.60" />
<line x1="805.00" y1="571.10" x2="809.80" y2="571.10" stroke="#000" stroke-width="1.60" />
<line x1="805.00" y1="556.12" x2="808.30" y2="556.12" stroke="#000" stroke-width="1.60" />
<line x1="805.00" y1="541.14" x2="808.30" y2="541.14" stroke="#000" stroke-width="1.60" />
<line x1="805.00" y1="526.16" x2="808.30" y2="526.16" stroke="#000" stroke-width="1.60" />
<line x1="805.00" y1="511.18" x2="808.30" y2="511.18" stroke="#000" stroke-width="1.60" />
<line x1="805.00" y1="496.20" x2="809.80" y2="496.20" stroke="#000" stroke-width="1.60" />
<line x1="805.00" y1="481.22" x2="808.30" y2="481.22" stroke="#000" stroke-width="1.60" />
<line x1="805.00" y1="466.24" x2="808.30" y2="466.24" stroke="#000" stroke-width="1.60" />
<line x1="863.80" y1="810.30" x2="863.80" y2="806.50" stroke="#000" stroke-width="1.60" />
<line x1="922.20" y1="810.30" x2="922.20" y2="806.50" stroke="#000" stroke-width="1.60" />
<line x1="980.60" y1="810.30" x2="980.60" y2="806.50" stroke="#000" stroke-width="1.60" />
<rect x="740.58" y="497.95" width="14.2" height="2.1" fill="#000"/>
<path d="M765.88,486.80 L764.68,486.80 L763.68,487.80 L762.68,488.90 L761.48,489.70 L758.28,490.40 L757.98,492.30 L761.88,491.90 L763.38,491.20 L763.38,507.20 L765.88,507.20 Z" fill="#000"/>
<text x="772.18" y="507.20" font-size="29.50" text-anchor="start" font-family="&quot;Liberation Sans&quot;, sans-serif" >.</text>
<text x="780.38" y="507.20" font-size="29.50" text-anchor="start" font-family="&quot;Liberation Sans&quot;, sans-serif" >7</text>
<rect x="740.38" y="572.85" width="14.2" height="2.1" fill="#000"/>
<path d="M765.68,561.70 L764.48,561.70 L763.48,562.70 L762.48,563.80 L761.28,564.60 L758.08,565.30 L757.78,567.20 L761.68,566.80 L763.18,566.10 L763.18,582.10 L765.68,582.10 Z" fill="#000"/>
<text x="771.98" y="582.10" font-size="29.50" text-anchor="start" font-family="&quot;Liberation Sans&quot;, sans-serif" >.</text>
<text x="780.18" y="582.10" font-size="29.50" text-anchor="start" font-family="&quot;Liberation Sans&quot;, sans-serif" >8</text>
<rect x="740.49" y="647.75" width="14.2" height="2.1" fill="#000"/>
<path d="M765.79,636.60 L764.59,636.60 L763.59,637.60 L762.59,638.70 L761.39,639.50 L758.19,640.20 L757.89,642.10 L761.79,641.70 L763.29,641.00 L763.29,657.00 L765.79,657.00 Z" fill="#000"/>
<text x="772.09" y="657.00" font-size="29.50" text-anchor="start" font-family="&quot;Liberation Sans&quot;, sans-serif" >.</text>
<text x="780.29" y="657.00" font-size="29.50" text-anchor="start" font-family="&quot;Liberation Sans&quot;, sans-serif" >9</text>
<rect x="740.24" y="722.65" width="14.2" height="2.1" fill="#000"/>
<text x="755.44" y="731.90" font-size="29.50" text-anchor="start" font-family="&quot;Liberation Sans&quot;, sans-serif" >2</text>
<text x="771.85" y="731.90" font-size="29.50" text-anchor="start" font-family="&quot;Liberation Sans&quot;, sans-serif" >.</text>
<text x="780.05" y="731.90" font-size="29.50" text-anchor="start" font-family="&quot;Liberation Sans&quot;, sans-serif" >0</text>
<rect x="745.40" y="797.55" width="14.2" height="2.1" fill="#000"/>
<text x="760.60" y="806.80" font-size="29.50" text-anchor="start" font-family="&quot;Liberation Sans&quot;, sans-serif" >2</text>
<text x="777.00" y="806.80" font-size="29.50" text-anchor="start" font-family="&quot;Liberation Sans&quot;, sans-serif" >.</text>
<path d="M795.30,786.40 L794.10,786.40 L793.10,787.40 L792.10,788.50 L790.90,789.30 L787.70,790.00 L787.40,791.90 L791.30,791.50 L792.80,790.80 L792.80,806.80 L795.30,806.80 Z" fill="#000"/>
<rect x="846.10" y="842.05" width="34.60" height="1.1" fill="#000"/>
<text x="845.96" y="838.40" font-size="29.50" text-anchor="start" font-family="&quot;Liberation Sans&quot;, sans-serif" >5</text>
<g transform="translate(864.36,838.80)"><path d="M0.2,-10.3 C0.9,-13.3 2.6,-15.1 5.2,-15.1 L15.3,-15.1 L15.3,-12.5 L4.9,-12.5 C3.2,-12.5 2,-11.8 1.0,-10.2 Z" fill="#000"/><path d="M6.4,-12.8 C6.0,-8 5.0,-4.5 3.4,-1.8" stroke="#000" stroke-width="2.4" fill="none"/><circle cx="3.2" cy="-1.6" r="1.65" fill="#000"/><path d="M11.1,-12.8 L10.6,-5 C10.5,-1.8 11.6,-0.9 12.8,-0.9 C14.2,-0.9 15.0,-2.2 15.6,-4.5" stroke="#000" stroke-width="2.3" fill="none" stroke-linecap="round"/></g>
<text x="855.20" y="867.20" font-size="29.50" text-anchor="start" font-family="&quot;Liberation Sans&quot;, sans-serif" >8</text>
<rect x="906.40" y="842.05" width="34.60" height="1.1" fill="#000"/>
<text x="906.28" y="838.40" font-size="29.50" text-anchor="start" font-family="&quot;Liberation Sans&quot;, sans-serif" >3</text>
<g transform="translate(924.69,838.80)"><path d="M0.2,-10.3 C0.9,-13.3 2.6,-15.1 5.2,-15.1 L15.3,-15.1 L15.3,-12.5 L4.9,-12.5 C3.2,-12.5 2,-11.8 1.0,-10.2 Z" fill="#000"/><path d="M6.4,-12.8 C6.0,-8 5.0,-4.5 3.4,-1.8" stroke="#000" stroke-width="2.4" fill="none"/><circle cx="3.2" cy="-1.6" r="1.65" fill="#000"/><path d="M11.1,-12.8 L10.6,-5 C10.5,-1.8 11.6,-0.9 12.8,-0.9 C14.2,-0.9 15.0,-2.2 15.6,-4.5" stroke="#000" stroke-width="2.3" fill="none" stroke-linecap="round"/></g>
<text x="915.59" y="867.20" font-size="29.50" text-anchor="start" font-family="&quot;Liberation Sans&quot;, sans-serif" >4</text>
<rect x="964.80" y="842.05" width="34.30" height="1.1" fill="#000"/>
<text x="964.34" y="838.40" font-size="29.50" text-anchor="start" font-family="&quot;Liberation Sans&quot;, sans-serif" >7</text>
<g transform="translate(982.75,838.80)"><path d="M0.2,-10.3 C0.9,-13.3 2.6,-15.1 5.2,-15.1 L15.3,-15.1 L15.3,-12.5 L4.9,-12.5 C3.2,-12.5 2,-11.8 1.0,-10.2 Z" fill="#000"/><path d="M6.4,-12.8 C6.0,-8 5.0,-4.5 3.4,-1.8" stroke="#000" stroke-width="2.4" fill="none"/><circle cx="3.2" cy="-1.6" r="1.65" fill="#000"/><path d="M11.1,-12.8 L10.6,-5 C10.5,-1.8 11.6,-0.9 12.8,-0.9 C14.2,-0.9 15.0,-2.2 15.6,-4.5" stroke="#000" stroke-width="2.3" fill="none" stroke-linecap="round"/></g>
<text x="973.75" y="867.20" font-size="29.50" text-anchor="start" font-family="&quot;Liberation Sans&quot;, sans-serif" >8</text>
<text x="840.10" y="901.30" font-size="29.50" text-anchor="start" font-family="&quot;Liberation Sans&quot;, sans-serif" letter-spacing="-0.35">Angle,</text>
<text x="929.40" y="901.30" font-size="29.5" font-family="&quot;Liberation Serif&quot;, serif" font-style="italic">&#952;</text>
<text x="951.00" y="901.30" font-size="29.50" text-anchor="start" font-family="&quot;Liberation Sans&quot;, sans-serif" letter-spacing="-0.55">(rad)</text>
<text transform="translate(726,635) rotate(-90)" font-size="31.5" text-anchor="middle" font-family="&quot;Liberation Sans&quot;, sans-serif">S</text>
<text transform="translate(708.2,449.8) scale(1.08,1)" font-size="31.5" stroke-width="1.2" font-weight="bold" stroke="#000" stroke-linejoin="round" font-family="&quot;Liberation Sans&quot;, sans-serif">d</text>
</svg>
</body></html>
